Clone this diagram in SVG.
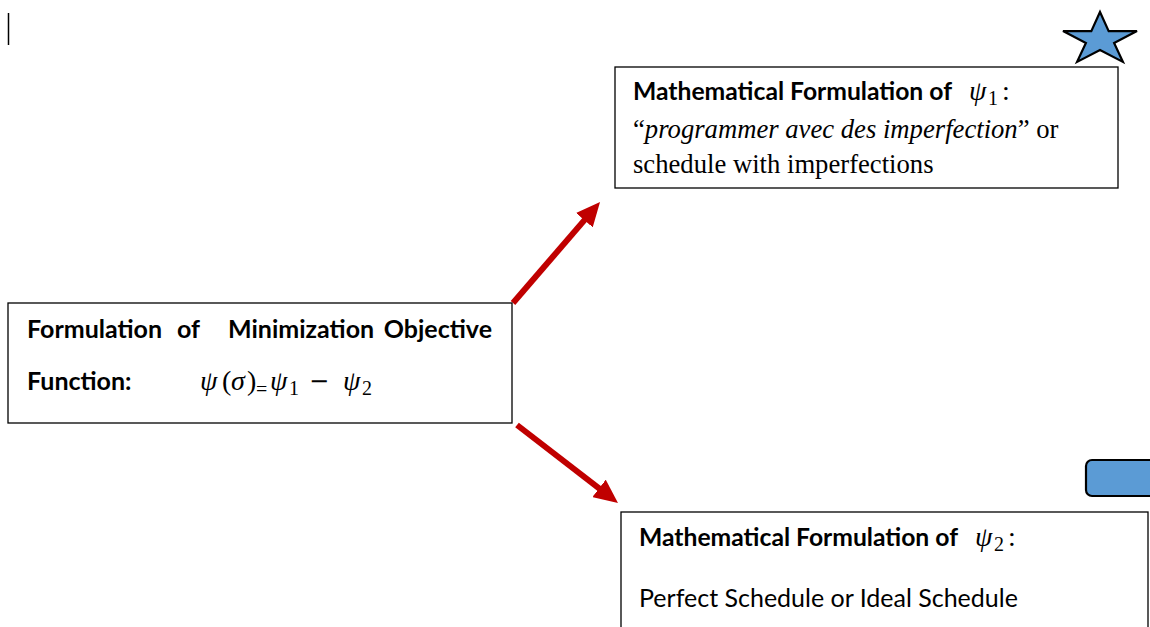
<svg xmlns="http://www.w3.org/2000/svg" width="1150" height="627" viewBox="0 0 1150 627">
<style>
.box{fill:#fff;stroke:#000;stroke-width:1.3}
.cb{font-family:Lato,"Open Sans",sans-serif;font-weight:bold;font-size:25px;fill:#000}
.cr{font-family:Lato,"Open Sans",sans-serif;font-size:25px;fill:#000}
.tr{font-family:"Liberation Serif","Times New Roman",serif;font-size:26.67px;fill:#000}
.ti{font-style:italic}
.m{font-family:"Liberation Serif","DejaVu Serif",serif;font-style:italic;font-size:28px;fill:#000}
.ms{font-family:"Liberation Serif","DejaVu Serif",serif;font-size:20px;fill:#000}
.mu{font-family:"Liberation Serif","DejaVu Serif",serif;font-size:28px;fill:#000}
.mm{font-family:"DejaVu Sans",sans-serif;font-size:24px;fill:#000}
.arrow{fill:none;stroke:#c00000;stroke-width:6}
.blue{fill:#5b9bd5;stroke:#000;stroke-width:2.2}
</style>
<defs>
<marker id="ah" markerUnits="userSpaceOnUse" viewBox="0 0 24 22" markerWidth="24" markerHeight="22" refX="12" refY="11" orient="auto">
<path d="M0,0 L24,11 L0,22 Z" fill="#c00000"/>
</marker>
</defs>

<line x1="8.5" y1="13" x2="8.5" y2="45" stroke="#000" stroke-width="1.5"/>

<polygon id="star" class="blue" points="1100,12 1108.7,31.1 1137,31.1 1114.1,42.9 1122.9,61.9 1100,50.1 1077.1,61.9 1085.9,42.9 1063,31.1 1091.3,31.1"/>

<rect id="blue-tab" class="blue" x="1086" y="460" width="100" height="36" rx="6"/>

<g id="connectors">
<path class="arrow" d="M513,303 L592.2,211.1" marker-end="url(#ah)"/>
<path class="arrow" d="M517,425 L608.5,495.7" marker-end="url(#ah)"/>
</g>

<g id="node-objective">
<rect class="box" x="8" y="303" width="504" height="120"/>
<text class="cb" x="27" y="338">Formulation</text>
<text class="cb" x="177" y="338">of</text>
<text class="cb" x="228" y="338">Minimization</text>
<text class="cb" x="492" y="338" text-anchor="end">Objective</text>
<text class="cb" x="27" y="390">Function:</text>
<text class="m" x="200" y="390">ψ</text>
<text class="mu" x="222" y="390">(</text>
<text class="m" x="231" y="390">σ</text>
<text class="mu" x="247" y="390">)</text>
<text class="ms" x="256" y="396">=</text>
<text class="m" x="270" y="390">ψ</text>
<text class="ms" x="289" y="395">1</text>
<text class="mm" x="309" y="389">−</text>
<text class="m" x="343" y="390">ψ</text>
<text class="ms" x="362" y="395">2</text>
</g>

<g id="node-psi1">
<rect class="box" x="615" y="67" width="503" height="121"/>
<text class="cb" x="633" y="100" textLength="319" lengthAdjust="spacingAndGlyphs">Mathematical Formulation of</text>
<text class="m" x="969" y="100">ψ</text>
<text class="ms" x="988" y="105">1</text>
<text class="mu" x="1002" y="100">:</text>
<text class="tr" x="633" y="138">“<tspan class="ti">programmer avec des imperfection</tspan>” or</text>
<text class="tr" x="633" y="173">schedule with imperfections</text>
</g>

<g id="node-psi2">
<rect class="box" x="621" y="512" width="527" height="130"/>
<text class="cb" x="639" y="546" textLength="319" lengthAdjust="spacingAndGlyphs">Mathematical Formulation of</text>
<text class="m" x="975" y="546">ψ</text>
<text class="ms" x="994" y="551">2</text>
<text class="mu" x="1008" y="546">:</text>
<text class="cr" x="639" y="607">Perfect Schedule or Ideal Schedule</text>
</g>
</svg>
